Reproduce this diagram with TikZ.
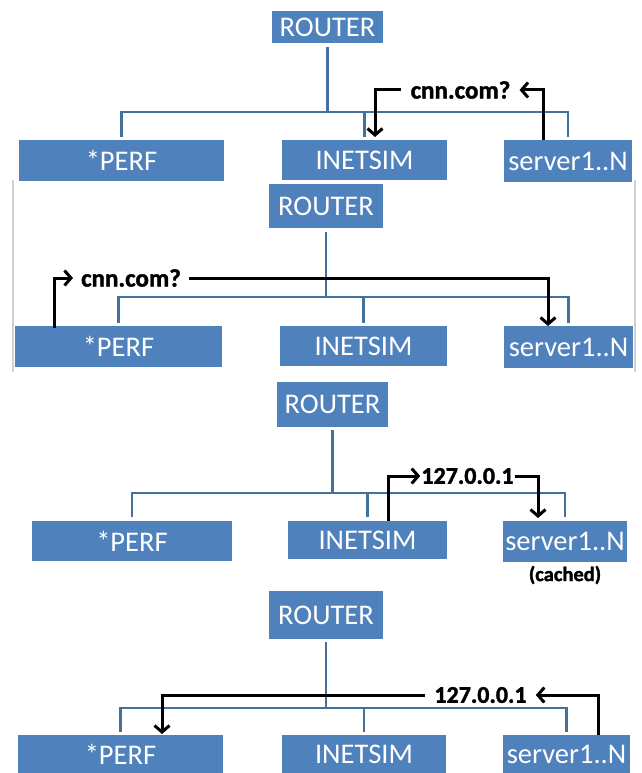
\documentclass[tikz,border=0pt]{standalone}
\usepackage{fontspec}
\setmainfont{Carlito}
\newfontfamily\lblfont{Carlito}[BoldFeatures={FakeBold=1.6}]
\usetikzlibrary{arrows.meta}
\definecolor{boxblue}{HTML}{4F81BD}
\definecolor{treeblue}{HTML}{41719C}
\begin{document}
\begin{tikzpicture}[x=1pt,y=-1pt,
  box/.style={fill=boxblue, text=white, inner sep=0pt, anchor=center, font=\fontsize{28.5}{30}\selectfont},
  tree/.style={draw=treeblue, line width=2.2pt},
  arr/.style={draw=black, line width=3pt, line join=miter, -{Straight Barb[length=6.5pt,width=15pt]}},
  lbl/.style={inner ysep=0pt, font=\lblfont\bfseries\fontsize{25}{27}\selectfont},
  lblip/.style={inner ysep=0pt, font=\lblfont\bfseries\fontsize{24}{26}\selectfont},
  framegray/.style={draw=black!18, line width=1.2pt}]
\useasboundingbox (0,0) rectangle (641,773);

% ---------------- Panel 1 ----------------
\node[box, minimum width=111pt, minimum height=32pt] (r1) at (327.5,27) {ROUTER};
\node[box, minimum width=205pt, minimum height=41pt] (p1) at (121.5,160.5) {*PERF};
\node[box, minimum width=165pt, minimum height=40pt] (i1) at (364.5,160) {INETSIM};
\node[box, minimum width=128pt, minimum height=42pt] (s1) at (568,161) {server1..N};
\coordinate (b1) at (0,112);
\draw[tree, shorten <=4pt] (r1.south) -- (r1.south |- b1);
\draw[tree, shorten <=3pt, shorten >=3pt] (p1.north) -- (p1.north |- b1) -- (s1.north |- b1) -- (s1.north);
\draw[tree, shorten >=3pt] (i1.north |- b1) -- (i1.north);
\node[lbl, inner xsep=9pt] (q1) at (460.5,90) {cnn.com?};
\coordinate (a1s) at (543,140);
\coordinate (a1e) at (375,137);
\draw[arr] (a1s) |- (q1.east);
\draw[arr] (q1.west) -| (a1e);

% ---------------- Panel 2 ----------------
\draw[framegray] (13,180) -- (13,372);
\draw[framegray] (635,180) -- (635,372);
\node[box, minimum width=114pt, minimum height=44pt] (r2) at (326,206) {ROUTER};
\node[box, minimum width=207pt, minimum height=41pt] (p2) at (118.5,346.5) {*PERF};
\node[box, minimum width=167pt, minimum height=40pt] (i2) at (363.5,346) {INETSIM};
\node[box, minimum width=129pt, minimum height=42pt] (s2) at (568.5,347) {server1..N};
\coordinate (b2) at (0,297);
\draw[tree, shorten <=4pt] (r2.south) -- (r2.south |- b2);
\draw[tree, shorten <=3pt, shorten >=3pt] (p2.north) -- (p2.north |- b2) -- (s2.north |- b2) -- (s2.north);
\draw[tree, shorten >=3pt] (i2.north |- b2) -- (i2.north);
\node[lbl, inner xsep=8pt] (q2) at (131,278) {cnn.com?};
\coordinate (a2s) at (54,328);
\coordinate (a2e) at (548,326);
\draw[arr] (a2s) |- (q2.west);
\draw[arr] (q2.east) -| (a2e);

% ---------------- Panel 3 ----------------
\node[box, minimum width=111pt, minimum height=45pt] (r3) at (332.5,404.5) {ROUTER};
\node[box, minimum width=200pt, minimum height=40pt] (p3) at (132,541) {*PERF};
\node[box, minimum width=159pt, minimum height=38pt] (i3) at (367.5,540) {INETSIM};
\node[box, minimum width=124pt, minimum height=41pt] (s3) at (565,541.5) {server1..N};
\coordinate (b3) at (0,493);
\draw[tree, shorten <=3pt] (r3.south) -- (r3.south |- b3);
\draw[tree, shorten <=4pt, shorten >=4pt] (p3.north) -- (p3.north |- b3) -- (s3.north |- b3) -- (s3.north);
\draw[tree, shorten >=4pt] (i3.north |- b3) -- (i3.north);
\node[lblip, inner xsep=1pt] (q3) at (467.5,476) {127.0.0.1};
\node[inner sep=0pt, font=\lblfont\bfseries\fontsize{20.5}{22}\selectfont] (c3) at (565,575) {(cached)};
\coordinate (a3s) at (388,521);
\coordinate (a3e) at (538,518);
\draw[arr] (a3s) |- (q3.west);
\draw[arr] (q3.east) -| (a3e);

% ---------------- Panel 4 ----------------
\node[box, minimum width=114pt, minimum height=48pt] (r4) at (326,615) {ROUTER};
\node[box, minimum width=205pt, minimum height=38pt] (p4) at (120.5,754) {*PERF};
\node[box, minimum width=164pt, minimum height=38pt] (i4) at (364,754) {INETSIM};
\node[box, minimum width=127pt, minimum height=38pt] (s4) at (566.5,754) {server1..N};
\coordinate (b4) at (0,708);
\draw[tree, shorten <=3pt] (r4.south) -- (r4.south |- b4);
\draw[tree, shorten <=3pt, shorten >=3pt] (p4.north) -- (p4.north |- b4) -- (s4.north |- b4) -- (s4.north);
\draw[tree, shorten >=3pt] (i4.north |- b4) -- (i4.north);
\node[lblip, inner xsep=9pt] (q4) at (480.5,695) {127.0.0.1};
\coordinate (a4s) at (598,735);
\coordinate (a4e) at (162,734);
\draw[arr] (a4s) |- (q4.east);
\draw[arr] (q4.west) -| (a4e);
\end{tikzpicture}
\end{document}
